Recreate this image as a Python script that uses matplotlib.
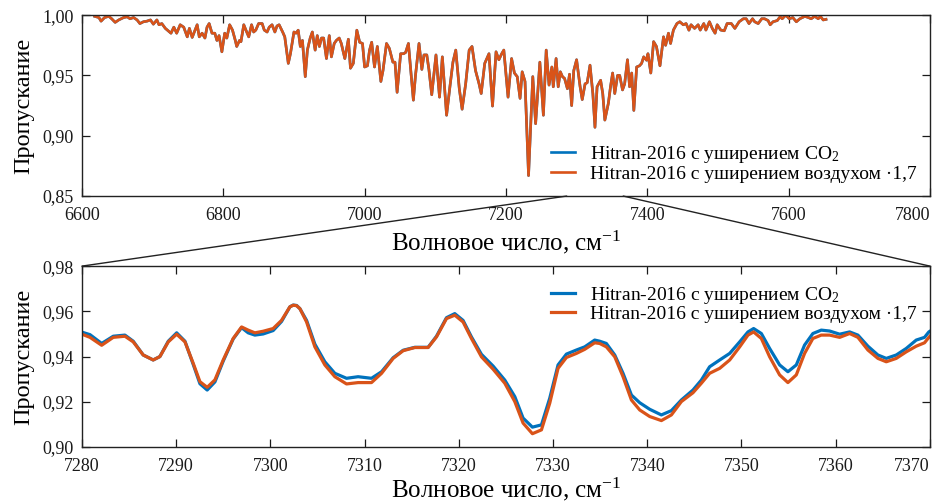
import matplotlib.pyplot as plt
from matplotlib.patches import ConnectionPatch

# --- fonts: Times-like serif with Cyrillic ---
plt.rcParams['font.family'] = ['Liberation Serif', 'DejaVu Serif']
plt.rcParams['mathtext.fontset'] = 'custom'
plt.rcParams['mathtext.rm'] = 'Liberation Serif'
plt.rcParams['mathtext.it'] = 'Liberation Serif:italic'

# --- labels ---
label_co2 = 'Hitran-2016 с уширением CO$_2$'
label_air = 'Hitran-2016 с уширением воздухом ·1,7'
xlabel_text = 'Волновое число, см$^{-1}$'
ylabel_text = 'Пропускание'

# --- top panel: whole band ---
top_wn = [6618, 6624, 6627, 6632, 6638, 6642, 6647, 6652, 6659, 6664, 6668, 6673, 6678, 6682,
          6687, 6692, 6697, 6701, 6706, 6709, 6713, 6718, 6722, 6726, 6730, 6734, 6739, 6744,
          6749, 6752, 6756, 6760, 6763, 6766, 6770, 6774, 6777, 6780, 6784, 6788, 6791, 6794,
          6798, 6802, 6805, 6809, 6813, 6817, 6819, 6823, 6825, 6829, 6832, 6836, 6840, 6843,
          6846, 6850, 6855, 6858, 6862, 6865, 6869, 6873, 6876, 6879, 6884, 6887, 6892, 6895,
          6900, 6903, 6906, 6909, 6912, 6916, 6919, 6923, 6926, 6930, 6933, 6936, 6939, 6942,
          6946, 6950, 6953, 6957, 6960, 6964, 6967, 6972, 6977, 6980, 6984, 6989, 6993, 6997,
          7000, 7004, 7007, 7010, 7014, 7018, 7023, 7026, 7031, 7035, 7040, 7043, 7046, 7051,
          7055, 7058, 7062, 7065, 7069, 7072, 7077, 7081, 7084, 7088, 7091, 7095, 7101, 7106,
          7110, 7116, 7121, 7125, 7129, 7134, 7138, 7143, 7148, 7152, 7157, 7162, 7165, 7170,
          7173, 7176, 7181, 7186, 7190, 7194, 7197, 7203, 7208, 7212, 7216, 7220, 7223, 7227,
          7232, 7238, 7242, 7248, 7253, 7257, 7261, 7265, 7267, 7271, 7274, 7277, 7280, 7283,
          7287, 7290, 7293, 7296, 7300, 7305, 7308, 7312, 7315, 7319, 7323, 7326, 7329, 7334,
          7337, 7340, 7345, 7348, 7351, 7354, 7358, 7361, 7365, 7368, 7372, 7375, 7378, 7381,
          7385, 7389, 7392, 7395, 7399, 7401, 7405, 7409, 7413, 7418, 7423, 7426, 7430, 7433,
          7437, 7442, 7446, 7451, 7455, 7459, 7462, 7467, 7472, 7475, 7480, 7483, 7488, 7492,
          7496, 7499, 7504, 7509, 7513, 7519, 7524, 7530, 7536, 7540, 7544, 7549, 7552, 7557,
          7562, 7566, 7571, 7574, 7578, 7584, 7588, 7591, 7596, 7601, 7606, 7611, 7616, 7623,
          7628, 7632, 7637, 7642, 7645, 7649, 7653]
top_trans = [0.999, 0.998, 0.995, 0.998, 0.999, 0.997, 0.994, 0.996, 0.998, 0.9986, 0.997, 0.998, 0.996, 0.993,
             0.9945, 0.995, 0.996, 0.9925, 0.996, 0.992, 0.993, 0.989, 0.987, 0.985, 0.990, 0.985, 0.992, 0.990,
             0.982, 0.989, 0.9815, 0.9876, 0.992, 0.982, 0.985, 0.981, 0.990, 0.993, 0.985, 0.985, 0.979, 0.983,
             0.9696, 0.985, 0.981, 0.992, 0.9876, 0.979, 0.974, 0.979, 0.978, 0.992, 0.9876, 0.982, 0.992, 0.986,
             0.9876, 0.993, 0.993, 0.9876, 0.986, 0.990, 0.992, 0.986, 0.991, 0.992, 0.986, 0.982, 0.960, 0.968,
             0.986, 0.985, 0.9875, 0.974, 0.979, 0.949, 0.971, 0.981, 0.986, 0.971, 0.983, 0.974, 0.981, 0.981,
             0.964, 0.983, 0.9654, 0.9765, 0.979, 0.981, 0.9765, 0.964, 0.980, 0.956, 0.960, 0.9875, 0.9775, 0.9765,
             0.957, 0.958, 0.971, 0.9775, 0.957, 0.974, 0.945, 0.954, 0.9765, 0.9724, 0.961, 0.961, 0.936, 0.968,
             0.968, 0.969, 0.9765, 0.956, 0.9295, 0.950, 0.9765, 0.955, 0.967, 0.967, 0.955, 0.934, 0.967, 0.932,
             0.9654, 0.917, 0.942, 0.961, 0.971, 0.939, 0.922, 0.943, 0.971, 0.974, 0.954, 0.943, 0.935, 0.960,
             0.964, 0.968, 0.9246, 0.9696, 0.963, 0.968, 0.971, 0.932, 0.964, 0.952, 0.949, 0.931, 0.953, 0.945,
             0.867, 0.949, 0.910, 0.961, 0.917, 0.971, 0.942, 0.957, 0.9406, 0.964, 0.9406, 0.953, 0.949, 0.9475,
             0.939, 0.951, 0.925, 0.954, 0.963, 0.9406, 0.930, 0.943, 0.944, 0.9585, 0.935, 0.907, 0.9406, 0.946,
             0.935, 0.913, 0.927, 0.9406, 0.952, 0.935, 0.950, 0.950, 0.938, 0.943, 0.963, 0.9406, 0.952, 0.921,
             0.957, 0.958, 0.960, 0.9654, 0.9626, 0.968, 0.952, 0.978, 0.974, 0.958, 0.982, 0.975, 0.985, 0.9765,
             0.9876, 0.993, 0.9945, 0.992, 0.993, 0.9875, 0.992, 0.989, 0.992, 0.9876, 0.993, 0.9876, 0.9945, 0.989,
             0.985, 0.992, 0.9876, 0.987, 0.993, 0.993, 0.989, 0.9945, 0.997, 0.997, 0.993, 0.997, 0.9945, 0.993,
             0.997, 0.997, 0.9955, 0.992, 0.9945, 0.9955, 0.9986, 0.997, 1.000, 0.997, 0.998, 0.9945, 0.997, 0.999,
             0.998, 0.997, 0.999, 0.997, 0.999, 0.996, 0.9965]

# --- bottom panel: zoomed part 7280-7370 ---
zoom_wn = [7280.00, 7280.85, 7282.09, 7283.32, 7284.56, 7285.44, 7286.50, 7287.56, 7288.27, 7289.16,
           7290.05, 7290.93, 7291.81, 7292.52, 7293.29, 7294.11, 7294.99, 7296.05, 7296.94, 7297.64,
           7298.35, 7299.23, 7300.29, 7301.18, 7302.07, 7302.42, 7302.78, 7303.13, 7303.84, 7304.72,
           7305.78, 7306.84, 7308.08, 7309.31, 7310.73, 7311.80, 7313.03, 7314.09, 7315.33, 7316.74,
           7317.63, 7318.69, 7319.57, 7320.45, 7321.34, 7322.40, 7323.64, 7324.88, 7325.94, 7326.82,
           7327.81, 7328.77, 7329.65, 7330.53, 7331.42, 7332.48, 7333.36, 7334.42, 7334.95, 7335.66,
           7336.55, 7337.43, 7338.32, 7339.20, 7340.26, 7341.50, 7342.56, 7343.62, 7344.85, 7345.74,
           7346.62, 7347.69, 7348.75, 7349.81, 7350.69, 7351.29, 7352.11, 7352.99, 7354.05, 7354.93,
           7355.82, 7356.70, 7357.58, 7358.47, 7359.36, 7360.42, 7361.48, 7362.36, 7363.42, 7364.48,
           7365.37, 7366.43, 7367.49, 7368.55, 7369.43, 7369.89, 7370.00]
zoom_co2 = [0.9508, 0.9497, 0.9458, 0.9490, 0.9495, 0.9468, 0.9407, 0.9385, 0.9400, 0.9468,
            0.9505, 0.9468, 0.9365, 0.9280, 0.9252, 0.9288, 0.9380, 0.9478, 0.9528, 0.9505,
            0.9495, 0.9500, 0.9515, 0.9555, 0.9620, 0.9628, 0.9626, 0.9612, 0.9560, 0.9455,
            0.9377, 0.9326, 0.9304, 0.9311, 0.9304, 0.9333, 0.9395, 0.9428, 0.9441, 0.9441,
            0.9490, 0.9572, 0.9590, 0.9560, 0.9487, 0.9410, 0.9358, 0.9296, 0.9223, 0.9128,
            0.9088, 0.9098, 0.9216, 0.9363, 0.9411, 0.9429, 0.9443, 0.9473, 0.9468, 0.9458,
            0.9407, 0.9326, 0.9230, 0.9196, 0.9167, 0.9142, 0.9161, 0.9208, 0.9252, 0.9296,
            0.9355, 0.9385, 0.9414, 0.9465, 0.9509, 0.9524, 0.9502, 0.9436, 0.9363, 0.9333,
            0.9363, 0.9451, 0.9502, 0.9517, 0.9513, 0.9499, 0.9509, 0.9495, 0.9446, 0.9407,
            0.9392, 0.9407, 0.9436, 0.9473, 0.9485, 0.9509, 0.9512]
zoom_air = [0.9499, 0.9485, 0.9450, 0.9485, 0.9490, 0.9465, 0.9407, 0.9385, 0.9400, 0.9465,
            0.9499, 0.9465, 0.9370, 0.9289, 0.9264, 0.9297, 0.9385, 0.9480, 0.9531, 0.9517,
            0.9505, 0.9512, 0.9524, 0.9560, 0.9620, 0.9627, 0.9625, 0.9612, 0.9553, 0.9443,
            0.9363, 0.9311, 0.9279, 0.9285, 0.9285, 0.9326, 0.9392, 0.9426, 0.9440, 0.9440,
            0.9487, 0.9568, 0.9583, 0.9553, 0.9480, 0.9399, 0.9344, 0.9282, 0.9201, 0.9106,
            0.9059, 0.9076, 0.9194, 0.9348, 0.9396, 0.9414, 0.9432, 0.9461, 0.9458, 0.9443,
            0.9399, 0.9311, 0.9208, 0.9164, 0.9135, 0.9117, 0.9142, 0.9201, 0.9240, 0.9282,
            0.9326, 0.9348, 0.9385, 0.9443, 0.9495, 0.9509, 0.9480, 0.9399, 0.9319, 0.9285,
            0.9319, 0.9414, 0.9480, 0.9495, 0.9495, 0.9485, 0.9502, 0.9485, 0.9429, 0.9392,
            0.9377, 0.9392, 0.9421, 0.9446, 0.9461, 0.9485, 0.9490]

# --- ticks ---
top_xticks = [6600, 6800, 7000, 7200, 7400, 7600, 7800]
top_yticks = [0.85, 0.90, 0.95, 1.00]
top_ylabels = ['0,85', '0,90', '0,95', '1,00']
bot_xticks = [7280, 7290, 7300, 7310, 7320, 7330, 7340, 7350, 7360, 7370]
bot_yticks = [0.90, 0.92, 0.94, 0.96, 0.98]
bot_ylabels = ['0,90', '0,92', '0,94', '0,96', '0,98']

blue = '#0072BD'
orange = '#D95319'

fig = plt.figure(figsize=(9.39, 5.04), dpi=100)
ax_top = fig.add_axes([0.0873, 0.611, 0.903, 0.359])
ax_bot = fig.add_axes([0.0873, 0.113, 0.903, 0.359])


def style_axes(ax, xticks, yticks, ylabels, xpad):
    ax.set_xticks(xticks)
    xl = [str(t) for t in xticks]
    ax.set_xticklabels(xl)
    ax.set_yticks(yticks)
    ax.set_yticklabels(ylabels)
    ax.tick_params(direction='in', length=6, width=0.9, top=True, right=True,
                   labelsize=13, colors='#1a1a1a')
    ax.tick_params(axis='x', pad=8)
    ax.tick_params(axis='y', pad=6)
    for s in ax.spines.values():
        s.set_linewidth(1.0)
        s.set_color('#222222')
    # last x label sits left of its tick, as in the original
    ax.get_xticklabels()[-1].set_horizontalalignment('right')
    ax.set_xlabel(xlabel_text, fontsize=18, labelpad=xpad)
    ax.set_ylabel(ylabel_text, fontsize=17.5, labelpad=6)


# top panel
ax_top.plot(top_wn, top_trans, color=blue, lw=1.9, label=label_co2)
ax_top.plot(top_wn, top_trans, color=orange, lw=1.9, label=label_air)
ax_top.set_xlim(6600, 7800)
ax_top.set_ylim(0.85, 1.00)
style_axes(ax_top, top_xticks, top_yticks, top_ylabels, 3)
ax_top.legend(loc='upper left', bbox_to_anchor=(0.553, 0.288), frameon=False, fontsize=14,
              handlelength=1.25, handletextpad=0.75, labelspacing=0.0,
              borderpad=0, borderaxespad=0)

# bottom panel
ax_bot.plot(zoom_wn, zoom_co2, color=blue, lw=2.3, label=label_co2, solid_joinstyle='round')
ax_bot.plot(zoom_wn, zoom_air, color=orange, lw=2.3, label=label_air, solid_joinstyle='round')
ax_bot.set_xlim(7280, 7370)
ax_bot.set_ylim(0.90, 0.98)
style_axes(ax_bot, bot_xticks, bot_yticks, bot_ylabels, 0.5)
ax_bot.legend(loc='upper left', bbox_to_anchor=(0.553, 0.898), frameon=False, fontsize=14,
              handlelength=1.25, handletextpad=0.75, labelspacing=0.0,
              borderpad=0, borderaxespad=0)

# zoom connector lines
for xa, xb in [(7286, 0.0), (7366, 1.0)]:
    con = ConnectionPatch(xyA=(xa, 0.85), coordsA=ax_top.transData,
                          xyB=(xb, 1.0), coordsB=ax_bot.transAxes,
                          color='#222222', lw=1.0)
    fig.add_artist(con)

fig.savefig('out.png', dpi=100)
